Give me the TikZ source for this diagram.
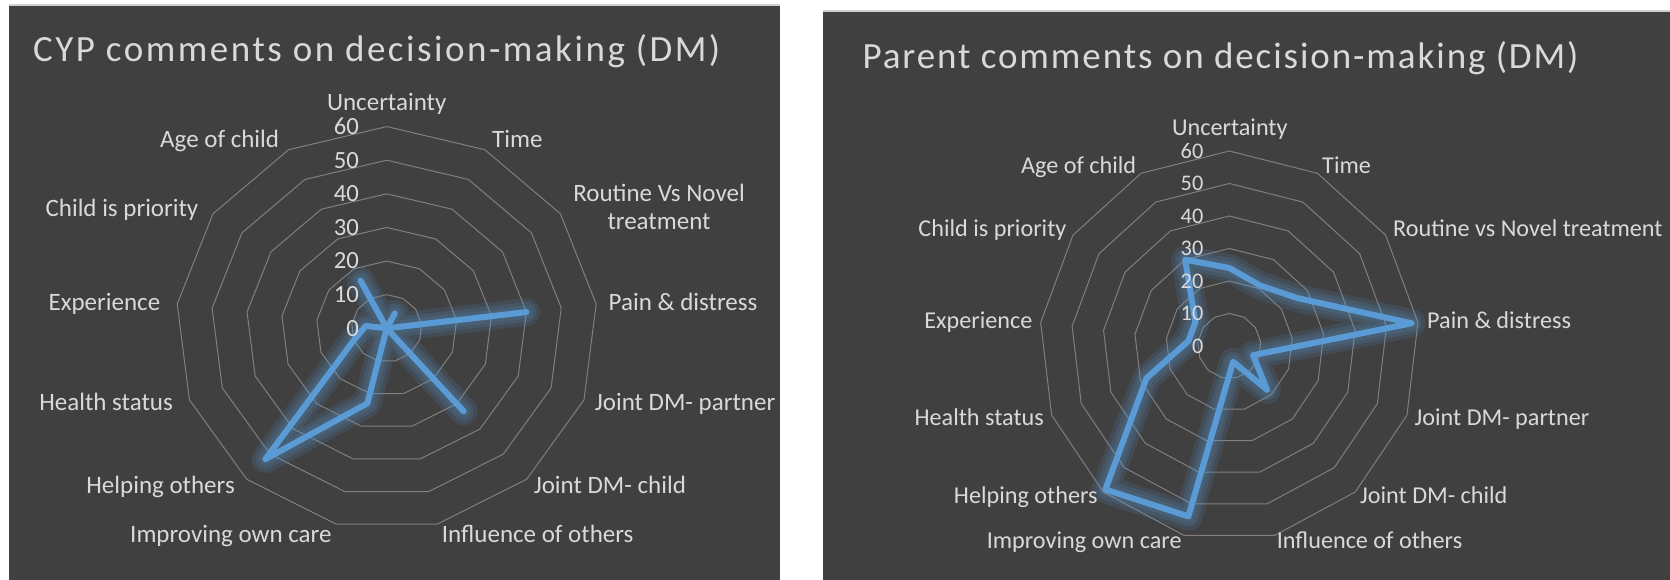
\documentclass[tikz,border=0pt]{standalone}
\usepackage{fontspec}
\setmainfont{Carlito}
\newfontfamily\titleL[LetterSpace=6.8]{Carlito}
\newfontfamily\titleR[LetterSpace=5.2]{Carlito}
\definecolor{panel}{HTML}{404040}
\definecolor{ring}{HTML}{7F7F7F}
\definecolor{rim}{HTML}{D0D0D0}
\definecolor{series}{HTML}{5B9BD5}
\definecolor{labeltext}{HTML}{D9D9D9}
\tikzset{
  title/.style={text=labeltext, inner sep=0pt},
  catlabel/.style={text=labeltext, inner sep=0pt, font=\fontsize{25}{28.3}\selectfont},
  catlabelR/.style={text=labeltext, inner sep=0pt, font=\fontsize{24.2}{28}\selectfont},
  ticklabel/.style={text=labeltext, inner sep=0pt, anchor=east},
  ringline/.style={draw=ring, line width=1pt},
  seriesline/.style={draw=series, line width=6pt, line join=round},
  glow/.style={draw=series, line width=#1, opacity=0.14, line join=round}
}

\begin{document}
\begin{tikzpicture}[x=1pt, y=1pt]
  % Panels
  \fill[white] (0,0) rectangle (1670,580);
  \useasboundingbox (0,0) rectangle (1670,580);
  \fill[panel] (9,0) rectangle (780,575);
  \draw[rim, line width=2pt] (9,575) -- (780,575);
  \fill[panel] (823,0) rectangle (1670,568.5);
  \draw[rim, line width=2pt] (823,568.5) -- (1670,568.5);

  % CYP chart
  \node[title, anchor=base west, font={\titleL\fontsize{37}{44}\selectfont}] (cyptitle) at (33,518.3) {CYP comments on decision-making (DM)};
  \begin{scope}[shift={(386.7pt,251.7pt)}, x=3.517pt, y=3.362pt]
    \foreach \v in {10,20,...,60}
      \draw[ringline] (90:\v) \foreach \k in {1,...,12} { -- ({90-\k*360/13}:\v) } -- cycle;
    \foreach \w in {28,20,13}
      \draw[glow=\w] (90:0) \foreach \r [count=\k] in {5,0,40,0,33,0,23,52,10,6,0,16} { -- ({90-\k*360/13}:\r) } -- cycle;
    \draw[seriesline] (90:0) \foreach \r [count=\k] in {5,0,40,0,33,0,23,52,10,6,0,16} { -- ({90-\k*360/13}:\r) } -- cycle;
  \end{scope}
  \foreach \v in {0,10,...,60}
    \node[ticklabel, font=\fontsize{24.7}{28}\selectfont] (cyptick\v) at (359.2,{251.7+\v*3.362}) {\v};
  \node[catlabel, anchor=base] (cypuncert) at (386.7,469.2) {Uncertainty};
  \node[catlabel, anchor=base east] (cypage) at (279.3,432.5) {Age of child};
  \node[catlabel, anchor=base west] (cyptime) at (492,432.5) {Time};
  \node[catlabel, align=center] (cyproutine) at (659,373.1) {Routine Vs Novel\\treatment};
  \node[catlabel, anchor=base east] (cypchild) at (198.6,363.3) {Child is priority};
  \node[catlabel, anchor=base east] (cypexper) at (160.4,269.5) {Experience};
  \node[catlabel, anchor=base west] (cyppain) at (608.5,269.5) {Pain \& distress};
  \node[catlabel, anchor=base east] (cyphealth) at (173,169.2) {Health status};
  \node[catlabel, anchor=base west] (cyppartner) at (594.7,169.2) {Joint DM- partner};
  \node[catlabel, anchor=base east] (cyphelping) at (235,86) {Helping others};
  \node[catlabel, anchor=base west] (cypjchild) at (533.6,86) {Joint DM- child};
  \node[catlabel, anchor=base east] (cypimprov) at (331.7,37.5) {Improving own care};
  \node[catlabel, anchor=base west] (cypinfl) at (441.7,37.5) {Influence of others};

  % Parent chart
  \node[title, anchor=base west, font={\titleR\fontsize{37}{44}\selectfont}] (partitle) at (862.3,511.7) {Parent comments on decision-making (DM)};
  \begin{scope}[shift={(1229.3pt,234pt)}, x=3.167pt, y=3.25pt]
    \foreach \v in {10,20,...,60}
      \draw[ringline] (90:\v) \foreach \k in {1,...,12} { -- ({90-\k*360/13}:\v) } -- cycle;
    \foreach \w in {28,20,13}
      \draw[glow=\w] (90:24) \foreach \r [count=\k] in {21,26,58,8,18,5,54,59,28,13,13,30} { -- ({90-\k*360/13}:\r) } -- cycle;
    \draw[seriesline] (90:24) \foreach \r [count=\k] in {21,26,58,8,18,5,54,59,28,13,13,30} { -- ({90-\k*360/13}:\r) } -- cycle;
  \end{scope}
  \foreach \v in {0,10,...,60}
    \node[ticklabel, font=\fontsize{22.3}{26}\selectfont] (partick\v) at (1203.5,{234+\v*3.25}) {\v};
  \node[catlabelR, anchor=base] (paruncert) at (1229.8,444.7) {Uncertainty};
  \node[catlabelR, anchor=base east] (parage) at (1136.4,406.4) {Age of child};
  \node[catlabelR, anchor=base west] (partime) at (1322,406.4) {Time};
  \node[catlabelR, anchor=base east] (parchild) at (1066.6,343) {Child is priority};
  \node[catlabelR, anchor=base west] (parroutine) at (1393,343) {Routine vs Novel treatment};
  \node[catlabelR, anchor=base east] (parexper) at (1032.6,251.4) {Experience};
  \node[catlabelR, anchor=base west] (parpain) at (1427,251.4) {Pain \& distress};
  \node[catlabelR, anchor=base east] (parhealth) at (1044,154.7) {Health status};
  \node[catlabelR, anchor=base west] (parpartner) at (1414.5,154.7) {Joint DM- partner};
  \node[catlabelR, anchor=base east] (parhelping) at (1097.8,76.4) {Helping others};
  \node[catlabelR, anchor=base west] (parjchild) at (1360,76.4) {Joint DM- child};
  \node[catlabelR, anchor=base east] (parimprov) at (1181.8,31.4) {Improving own care};
  \node[catlabelR, anchor=base west] (parinfl) at (1276.6,31.4) {Influence of others};
\end{tikzpicture}
\end{document}
